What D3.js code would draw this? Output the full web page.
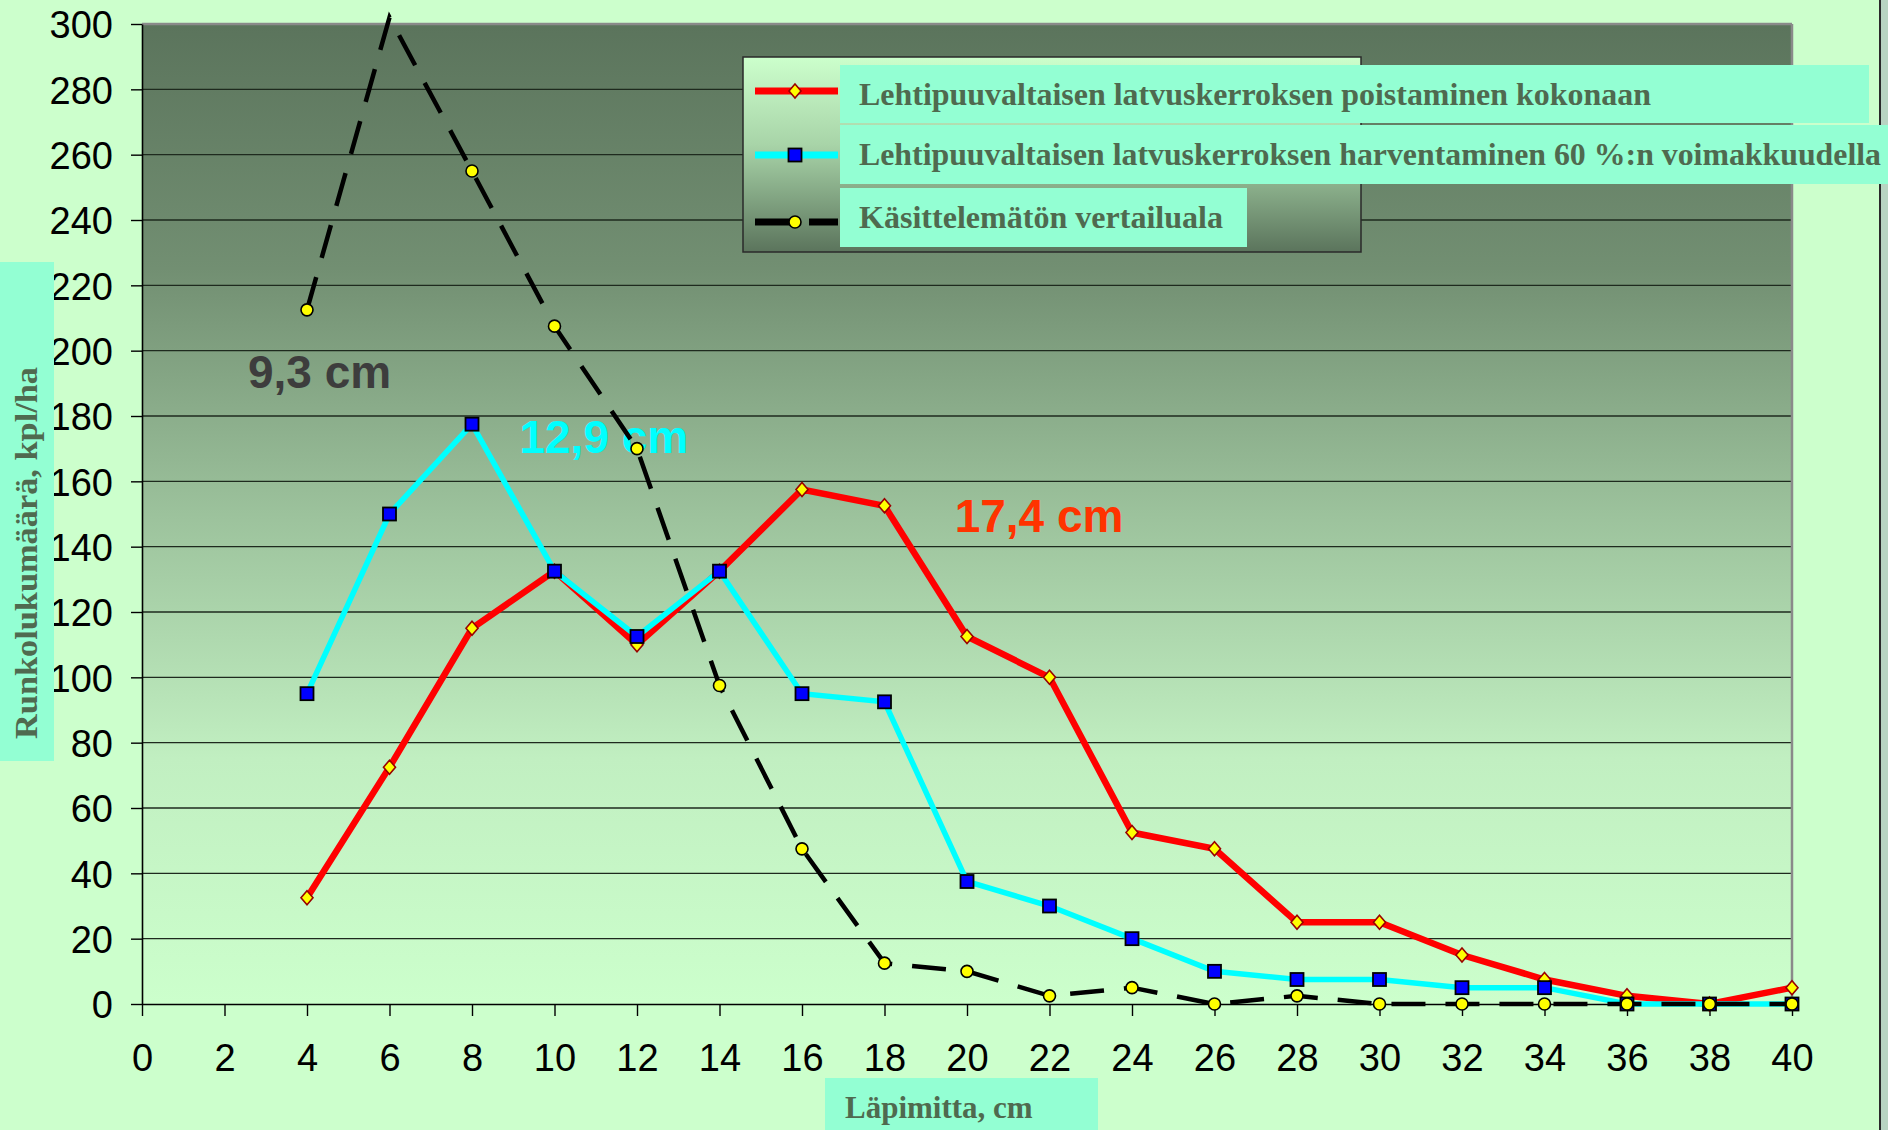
<!DOCTYPE html>
<html>
<head>
<meta charset="utf-8">
<script src="https://cdn.jsdelivr.net/npm/d3@7"></script>
<style>
  body { margin: 0; background: #ccffcc; }
  svg { display: block; }
</style>
</head>
<body>
<svg></svg>
<script>
// diameter classes (cm)
const diameters = [4, 6, 8, 10, 12, 14, 16, 18, 20, 22, 24, 26, 28, 30, 32, 34, 36, 38, 40];

// stems per hectare
const removedAll = [32.5, 72.5, 115, 132.5, 110, 132.5, 157.5, 152.5, 112.5, 100, 52.5, 47.5, 25, 25, 15, 7.5, 2.5, 0, 5];
const thinned60  = [95, 150, 177.5, 132.5, 112.5, 132.5, 95, 92.5, 37.5, 30, 20, 10, 7.5, 7.5, 5, 5, 0, 0, 0];
const untreated  = [212.5, 302, 255, 207.5, 170, 97.5, 47.5, 12.5, 10, 2.5, 5, 0, 2.5, 0, 0, 0, 0, 0, 0];

const seriesNames = [
  "Lehtipuuvaltaisen latvuskerroksen poistaminen kokonaan",
  "Lehtipuuvaltaisen latvuskerroksen harventaminen 60 %:n voimakkuudella",
  "Käsittelemätön vertailuala"
];

const xTicks = d3.range(0, 41, 2);
const yTicks = d3.range(0, 301, 20);

// mean diameter labels and where they sit (in data units)
const meanLabels = ["9,3 cm", "12,9 cm", "17,4 cm"];
const meanLabelX = [2.57, 9.15, 19.7];
const meanLabelY = [188.6, 168.7, 144.6];

const W = 1888, H = 1130;
const margin = {top: 24, right: 96, bottom: 126, left: 142};
const width = W - margin.left - margin.right;
const height = H - margin.top - margin.bottom;

const svg = d3.select("svg")
  .attr("width", W)
  .attr("height", H);

svg.append("rect").attr("width", W).attr("height", H).attr("fill", "#ccffcc");

// strip at the far right edge of the slide
svg.append("rect").attr("x", 1881).attr("y", 0).attr("width", 7).attr("height", H).attr("fill", "#b8d4c2");
svg.append("line").attr("x1", 1880).attr("x2", 1880).attr("y1", 0).attr("y2", H)
  .attr("stroke", "#2a2a2a").attr("stroke-width", 2);

const defs = svg.append("defs");
const plotGrad = defs.append("linearGradient").attr("id", "plotGrad")
  .attr("x1", 0).attr("y1", 0).attr("x2", 0).attr("y2", 1);
plotGrad.append("stop").attr("offset", "0%").attr("stop-color", "#5b745c");
plotGrad.append("stop").attr("offset", "25%").attr("stop-color", "#728f72");
plotGrad.append("stop").attr("offset", "50%").attr("stop-color", "#9cc29c");
plotGrad.append("stop").attr("offset", "75%").attr("stop-color", "#c1efc1");
plotGrad.append("stop").attr("offset", "100%").attr("stop-color", "#ccffcc");

const legGrad = defs.append("linearGradient").attr("id", "legGrad")
  .attr("x1", 0).attr("y1", 0).attr("x2", 0).attr("y2", 1);
legGrad.append("stop").attr("offset", "0%").attr("stop-color", "#ccffcc");
legGrad.append("stop").attr("offset", "45%").attr("stop-color", "#a8d4a8");
legGrad.append("stop").attr("offset", "100%").attr("stop-color", "#5b745c");

const g = svg.append("g")
  .attr("transform", `translate(${margin.left},${margin.top})`);

const x = d3.scaleLinear().domain([0, 40]).range([0, width]);
const y = d3.scaleLinear().domain([0, 300]).range([height, 0]);

// plot area
g.append("rect")
  .attr("width", width).attr("height", height)
  .attr("fill", "url(#plotGrad)");

// gridlines
g.append("g").selectAll("line")
  .data(yTicks.filter(d => d > 0 && d < 300))
  .join("line")
  .attr("x1", 0).attr("x2", width)
  .attr("y1", d => y(d)).attr("y2", d => y(d))
  .attr("stroke", "#1e2a1e").attr("stroke-width", 1.4);

// top and right border of the plot area
g.append("line").attr("x1", 0).attr("x2", width).attr("y1", y(300)).attr("y2", y(300))
  .attr("stroke", "#8a8a8a").attr("stroke-width", 2.5);
g.append("line").attr("x1", width).attr("x2", width).attr("y1", 0).attr("y2", height)
  .attr("stroke", "#8a8a8a").attr("stroke-width", 2.5);

// axes
const yAxis = g.append("g")
  .call(d3.axisLeft(y).tickValues(yTicks).tickSize(11).tickSizeOuter(0).tickPadding(18));
const xAxis = g.append("g")
  .attr("transform", `translate(0,${height})`)
  .call(d3.axisBottom(x).tickValues(xTicks).tickSize(12).tickSizeOuter(0).tickPadding(28));

[yAxis, xAxis].forEach(ax => {
  ax.select(".domain").attr("stroke", "#000").attr("stroke-width", 1.6);
  ax.selectAll(".tick line").attr("stroke", "#000").attr("stroke-width", 1.4);
  ax.selectAll("text")
    .attr("fill", "#000")
    .style("font-family", "'Liberation Sans', Arial, sans-serif")
    .style("font-size", "38px");
});
yAxis.selectAll("text").attr("dy", "0.36em");

// mean diameter annotations (drawn under the series)
const labelColors = ["#3d3d3d", "#00ffff", "#ff3300"];
g.append("g").selectAll("text")
  .data(meanLabels)
  .join("text")
  .attr("x", (d, i) => x(meanLabelX[i]))
  .attr("y", (d, i) => y(meanLabelY[i]))
  .attr("fill", (d, i) => labelColors[i])
  .style("font-family", "'Liberation Sans', Arial, sans-serif")
  .style("font-weight", "bold")
  .style("font-size", "46px")
  .text(d => d);

// series
const series = [
  {name: seriesNames[0], values: removedAll, color: "#ff0000", width: 6.5, dash: null, marker: "diamond"},
  {name: seriesNames[1], values: thinned60, color: "#00ffff", width: 5.5, dash: null, marker: "square"},
  {name: seriesNames[2], values: untreated, color: "#000000", width: 4.5, dash: "34,20", marker: "circle"}
];

const line = d3.line()
  .x(d => x(d[0]))
  .y(d => y(d[1]));

function drawMarker(sel, type) {
  if (type === "diamond") {
    sel.append("path")
      .attr("d", "M0,-7 L6,0 L0,7 L-6,0 Z")
      .attr("fill", "#ffff00").attr("stroke", "#990000").attr("stroke-width", 1.6);
  } else if (type === "square") {
    sel.append("rect")
      .attr("x", -6.5).attr("y", -6.5).attr("width", 13).attr("height", 13)
      .attr("fill", "#0000ff").attr("stroke", "#000").attr("stroke-width", 1.8);
  } else {
    sel.append("circle")
      .attr("r", 6)
      .attr("fill", "#ffff00").attr("stroke", "#000").attr("stroke-width", 1.6);
  }
}

series.forEach(s => {
  const pts = diameters.map((d, i) => [d, s.values[i]]);
  g.append("path")
    .datum(pts)
    .attr("d", line)
    .attr("fill", "none")
    .attr("stroke", s.color)
    .attr("stroke-width", s.width)
    .attr("stroke-linejoin", "miter")
    .attr("stroke-dasharray", s.dash);

  // points above the axis maximum get no marker
  g.append("g").selectAll("g")
    .data(pts.filter(p => p[1] <= 300))
    .join("g")
    .attr("transform", p => `translate(${x(p[0])},${y(p[1])})`)
    .each(function() { drawMarker(d3.select(this), s.marker); });
});

// axis titles
const titleFont = "'Liberation Serif', 'Times New Roman', serif";
svg.append("rect").attr("x", 0).attr("y", 262).attr("width", 54).attr("height", 499).attr("fill", "#93ffd3");
svg.append("text")
  .attr("transform", "translate(37,553) rotate(-90)")
  .attr("text-anchor", "middle")
  .attr("fill", "#4f6a4f")
  .attr("textLength", 372)
  .attr("lengthAdjust", "spacingAndGlyphs")
  .style("font-family", titleFont)
  .style("font-weight", "bold")
  .style("font-size", "31px")
  .text("Runkolukumäärä, kpl/ha");

svg.append("rect").attr("x", 825).attr("y", 1078).attr("width", 273).attr("height", 52).attr("fill", "#93ffd3");
svg.append("text")
  .attr("x", 845).attr("y", 1118)
  .attr("fill", "#4f6a4f")
  .style("font-family", titleFont)
  .style("font-weight", "bold")
  .style("font-size", "31px")
  .text("Läpimitta, cm");

// legend
const legend = svg.append("g");
legend.append("rect")
  .attr("x", 743).attr("y", 57).attr("width", 618).attr("height", 195)
  .attr("fill", "url(#legGrad)")
  .attr("stroke", "#2a2a2a").attr("stroke-width", 1.5);

const legRows = [
  {box: [840, 65, 1029, 58], base: 105, len: 792},
  {box: [840, 125, 1048, 59], base: 165, len: 1022},
  {box: [840, 188, 407, 59], base: 228, len: 364}
];
const legLineY = [91, 155, 222];

series.forEach((s, i) => {
  const r = legRows[i];
  legend.append("line")
    .attr("x1", 755).attr("x2", 838)
    .attr("y1", legLineY[i]).attr("y2", legLineY[i])
    .attr("stroke", s.color).attr("stroke-width", 7)
    .attr("stroke-dasharray", s.dash ? "36,18" : null);
  legend.append("g")
    .attr("transform", `translate(795,${legLineY[i]})`)
    .call(sel => drawMarker(sel, s.marker));
  legend.append("rect")
    .attr("x", r.box[0]).attr("y", r.box[1]).attr("width", r.box[2]).attr("height", r.box[3])
    .attr("fill", "#93ffd3");
  legend.append("text")
    .attr("x", 859).attr("y", r.base)
    .attr("fill", "#4f6a4f")
    .attr("textLength", r.len)
    .attr("lengthAdjust", "spacingAndGlyphs")
    .style("font-family", titleFont)
    .style("font-weight", "bold")
    .style("font-size", "32px")
    .text(s.name);
});
</script>
</body>
</html>
